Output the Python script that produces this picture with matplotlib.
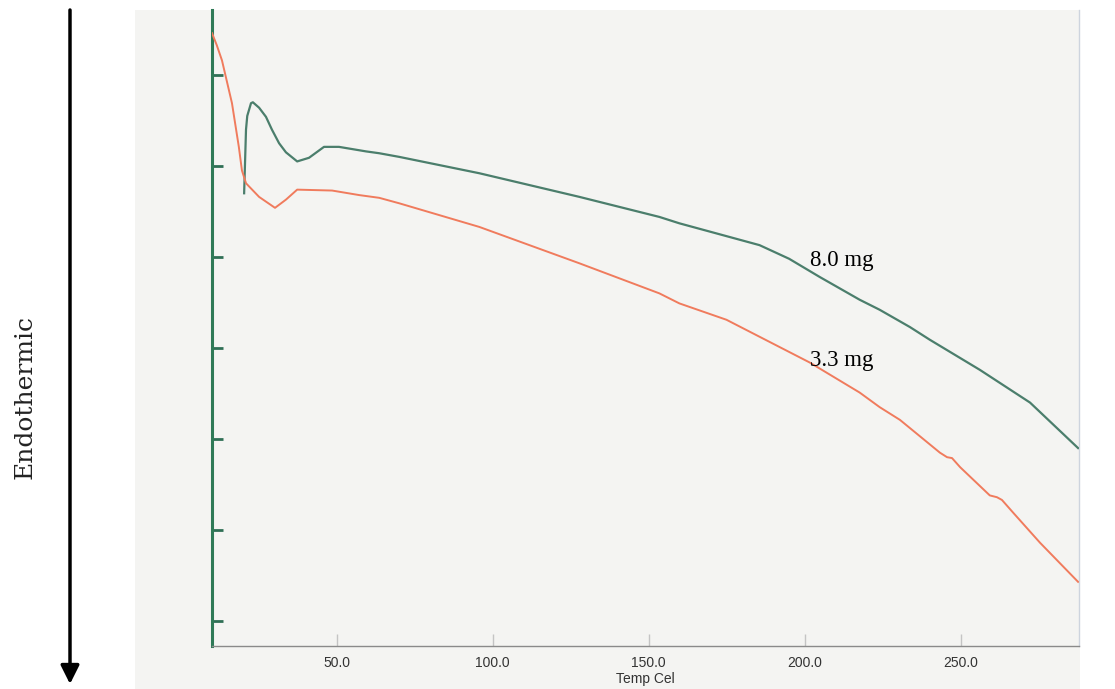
import matplotlib

matplotlib.use("Agg")
import matplotlib.pyplot as plt
from matplotlib.patches import Rectangle

# DSC traces (heat flow in arbitrary units, one unit per tick)
temp_8mg = [20.3, 20.9, 21.3, 22.5, 23.1, 25.1, 27.3, 29.2, 31.5, 33.7, 37.3,
            41.1, 45.9, 50.7, 59.4, 63.6, 70.0, 95.7, 127.8, 153.4, 159.8,
            185.5, 195.0, 204.8, 217.6, 224.0, 233.7, 240.1, 256.1, 272.2, 287.6]
flow_8mg = [4.70, 5.40, 5.55, 5.69, 5.70, 5.64, 5.54, 5.40, 5.25, 5.15, 5.05,
            5.09, 5.21, 5.21, 5.16, 5.14, 5.10, 4.92, 4.66, 4.44, 4.37,
            4.13, 3.98, 3.78, 3.53, 3.42, 3.23, 3.09, 2.76, 2.40, 1.90]

temp_33mg = [10.0, 11.5, 13.2, 16.4, 18.6, 19.6, 20.9, 25.1, 30.2, 33.7, 37.3,
             48.5, 57.2, 63.6, 70.0, 95.7, 127.8, 153.4, 159.8, 174.9, 201.6,
             217.6, 224.0, 230.5, 243.3, 245.6, 247.2, 249.8, 259.3, 261.6,
             263.2, 266.8, 275.4, 287.6]
flow_33mg = [6.46, 6.33, 6.16, 5.69, 5.21, 4.95, 4.81, 4.66, 4.54, 4.63, 4.74,
             4.73, 4.68, 4.65, 4.59, 4.33, 3.93, 3.60, 3.49, 3.31, 2.84,
             2.51, 2.35, 2.21, 1.85, 1.80, 1.79, 1.69, 1.38, 1.36,
             1.33, 1.19, 0.86, 0.43]

x_ticks = [50.0, 100.0, 150.0, 200.0, 250.0]
y_ticks = [0, 1, 2, 3, 4, 5, 6]

W, H = 1115, 689
fig = plt.figure(figsize=(W / 100, H / 100), dpi=100)

# overlay in pixel coordinates for the scan background, arrow and side label
over = fig.add_axes([0, 0, 1, 1], zorder=0)
over.set_xlim(0, W)
over.set_ylim(H, 0)
over.axis("off")
over.add_patch(Rectangle((135, 10), 945, 679, facecolor="#f4f4f2", edgecolor="none"))
over.annotate(
    "",
    xy=(70, 684),
    xytext=(70, 10),
    arrowprops=dict(arrowstyle="-|>", color="black", lw=2.5, mutation_scale=28,
                    shrinkA=0, shrinkB=0),
)
over.text(25, 397, "Endothermic", rotation=90, ha="center", va="center",
          fontsize=18, family="DejaVu Serif", color="#222222")

ax = fig.add_axes([212 / W, 1 - 646 / H, (1079 - 212) / W, (646 - 10) / H], zorder=1)
ax.set_facecolor("none")

ax.plot(temp_8mg, flow_8mg, color="#4b7e6c", lw=1.6, zorder=3)
ax.plot(temp_33mg, flow_33mg, color="#f07b5d", lw=1.4, zorder=3)

ax.set_xlim(10.0, 287.9)
ax.set_ylim(-0.275, 6.714)

ax.set_xticks(x_ticks)
ax.set_xticklabels([f"{t:.1f}" for t in x_ticks], fontsize=10,
                   family="Liberation Sans", color="#333333")
ax.tick_params(axis="x", direction="in", length=9, width=1, color="#c4c4c4", pad=7)
ax.set_yticks(y_ticks)
ax.set_yticklabels([])
ax.tick_params(axis="y", direction="in", length=8, width=2, color="#2f6f55")

ax.set_xlabel("Temp Cel", fontsize=10, family="Liberation Sans", color="#333333",
              labelpad=2)

ax.spines["top"].set_visible(False)
ax.spines["left"].set_color("#2f7a57")
ax.spines["left"].set_linewidth(2.2)
ax.spines["bottom"].set_color("#8a8a8a")
ax.spines["bottom"].set_linewidth(1.0)
ax.spines["right"].set_color("#cdd4de")
ax.spines["right"].set_linewidth(1.0)

ax.text(201.7, 3.90, "8.0 mg", fontsize=16.5, family="Liberation Serif",
        color="black", ha="left", va="baseline")
ax.text(201.7, 2.80, "3.3 mg", fontsize=16.5, family="Liberation Serif",
        color="black", ha="left", va="baseline")

fig.savefig("out.png", dpi=100, facecolor="white")
